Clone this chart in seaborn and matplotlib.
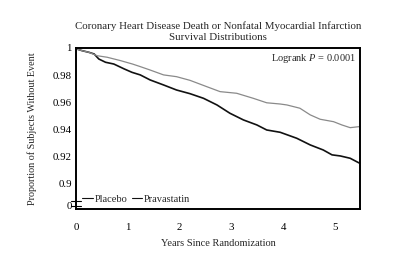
import pandas as pd
import numpy as np
import matplotlib
matplotlib.use("Agg")
import matplotlib.pyplot as plt
import seaborn as sns

# survival curves
placebo_years = [0, 0.01, 0.12, 0.25, 0.35, 0.44, 0.57, 0.73, 0.93, 1.08, 1.24, 1.43, 1.69,
                 1.94, 2.20, 2.46, 2.72, 2.97, 3.23, 3.49, 3.68, 3.94, 4.26, 4.52, 4.77,
                 4.94, 5.10, 5.29, 5.45, 5.48]
placebo_surv = [1.0, 0.9993, 0.998, 0.9968, 0.9956, 0.9919, 0.9895, 0.9882, 0.9846, 0.9821,
                0.9802, 0.9765, 0.9728, 0.9691, 0.9664, 0.9630, 0.9581, 0.9520, 0.9471,
                0.9434, 0.9397, 0.9380, 0.9336, 0.9287, 0.9250, 0.9214, 0.9206, 0.9189,
                0.9157, 0.9152]

prava_years = [0, 0.01, 0.12, 0.25, 0.41, 0.60, 0.86, 1.09, 1.24, 1.43, 1.69, 1.94, 2.20,
               2.52, 2.78, 3.10, 3.42, 3.68, 3.94, 4.07, 4.32, 4.52, 4.71, 4.97, 5.13,
               5.29, 5.45, 5.48]
prava_surv = [1.0, 0.9993, 0.998, 0.9968, 0.9943, 0.9932, 0.9907, 0.9882, 0.9863, 0.9838,
              0.9802, 0.9789, 0.9762, 0.9716, 0.9679, 0.9667, 0.9630, 0.9597, 0.9588,
              0.9581, 0.9557, 0.9508, 0.9476, 0.9458, 0.9434, 0.9414, 0.9421, 0.9421]

x_ticks = [0, 1, 2, 3, 4, 5]
y_ticks = [0.8838, 0.9, 0.92, 0.94, 0.96, 0.98, 1.0]
y_tick_labels = ["0", "0.9", "0.92", "0.94", "0.96", "0.98", "1"]

df = pd.concat([
    pd.DataFrame({"years": placebo_years, "surv": placebo_surv, "group": "Placebo"}),
    pd.DataFrame({"years": prava_years, "surv": prava_surv, "group": "Pravastatin"}),
])

sns.set_style("white")
plt.rcParams["font.family"] = ["Liberation Serif", "DejaVu Serif"]
plt.rcParams["mathtext.fontset"] = "custom"
plt.rcParams["mathtext.it"] = "Liberation Serif:italic"
plt.rcParams["mathtext.rm"] = "Liberation Serif"

fig = plt.figure(figsize=(4, 2.58), dpi=100)
ax = fig.add_axes([0.19, 0.19, 0.71, 0.624])

sns.lineplot(data=df, x="years", y="surv", hue="group",
             palette={"Placebo": "#111111", "Pravastatin": "#8a8a8a"},
             ax=ax, legend=False, estimator=None, sort=False)
ax.lines[0].set_linewidth(1.2)
ax.lines[1].set_linewidth(0.9)

ax.set_xlim(0, 5.48)
ax.set_ylim(0.8816, 1.0)
ax.set_xticks(x_ticks)
ax.set_yticks(y_ticks)
ax.set_yticklabels(y_tick_labels)
ax.tick_params(axis="y", direction="in", length=3, width=0.8, labelsize=7.8, pad=3)
ax.tick_params(axis="x", direction="out", length=3, width=0.8, labelsize=7.8, pad=7)
ax.tick_params(axis="both", colors="black")

for s in ax.spines.values():
    s.set_visible(True)
    s.set_color("black")
    s.set_linewidth(1.4)

# broken-axis marks on the y spine
for yb in [0.8876, 0.8838]:
    ax.plot([-0.09, 0.09], [yb, yb], color="black", lw=0.8, clip_on=False)

ax.set_xlabel("Years Since Randomization", fontsize=7.5, labelpad=5)
ax.set_ylabel("Proportion of Subjects Without Event", fontsize=7.3, labelpad=11)
ax.set_title("Coronary Heart Disease Death or Nonfatal Myocardial Infarction\nSurvival Distributions",
             fontsize=7.8, linespacing=1.3, pad=6)

ax.text(0.985, 0.935, "Logrank $P$ = 0.0001", transform=ax.transAxes,
        ha="right", va="center", fontsize=7.5)

handles = [plt.Line2D([], [], color="#111111", lw=0.8),
           plt.Line2D([], [], color="#111111", lw=0.8)]
ax.legend(handles, ["Placebo", "Pravastatin"], loc="lower left", ncol=2,
          frameon=False, fontsize=7.5, handlelength=1.0, handletextpad=0.2,
          columnspacing=0.4, borderaxespad=0.2, bbox_to_anchor=(0.0, -0.005))

fig.savefig("out.png", dpi=100)
